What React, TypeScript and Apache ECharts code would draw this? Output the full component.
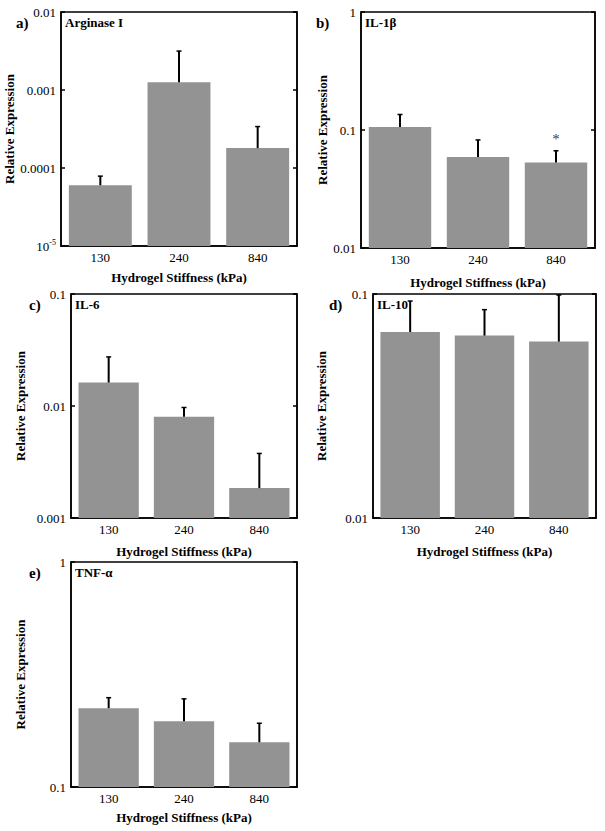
import React, { useEffect, useRef } from "react";
import * as echarts from "echarts";

const categories = ["130", "240", "840"];

const arginaseMean = [6.0e-5, 1.26e-3, 1.8e-4];
const arginaseErr = [8.1e-5, 3.25e-3, 3.5e-4];

const il1bMean = [0.106, 0.059, 0.053];
const il1bErr = [0.138, 0.084, 0.068];
const il1bSig = ["", "", "*"];

const il6Mean = [0.0162, 0.008, 0.00185];
const il6Err = [0.028, 0.0099, 0.00385];

const il10Mean = [0.0677, 0.0652, 0.0613];
const il10Err = [0.094, 0.086, 0.1];

const tnfMean = [0.224, 0.196, 0.158];
const tnfErr = [0.252, 0.249, 0.194];

const FONT = "'Liberation Serif', 'Times New Roman', serif";

type Panel = {
  letter: string;
  title: string;
  mean: number[];
  err: number[];
  sig: string[];
  min: number;
  max: number;
  grid: { left: number; top: number; width: number; height: number };
  yGap: number;
  xGap: number;
  letterX: number;
};

const panels: Panel[] = [
  { letter: "a)", title: "Arginase I", mean: arginaseMean, err: arginaseErr, sig: ["", "", ""], min: 1e-5, max: 1e-2,
    grid: { left: 61, top: 12, width: 236, height: 234 }, yGap: 44, xGap: 25, letterX: 17 },
  { letter: "b)", title: "IL-1β", mean: il1bMean, err: il1bErr, sig: il1bSig, min: 1e-2, max: 1,
    grid: { left: 361, top: 12, width: 234, height: 236 }, yGap: 32, xGap: 28, letterX: 317 },
  { letter: "c)", title: "IL-6", mean: il6Mean, err: il6Err, sig: ["", "", ""], min: 1e-3, max: 1e-1,
    grid: { left: 71, top: 294, width: 226, height: 224 }, yGap: 44, xGap: 27, letterX: 30 },
  { letter: "d)", title: "IL-10", mean: il10Mean, err: il10Err, sig: ["", "", ""], min: 1e-2, max: 1e-1,
    grid: { left: 373, top: 294, width: 223, height: 224 }, yGap: 45, xGap: 27, letterX: 330 },
  { letter: "e)", title: "TNF-α", mean: tnfMean, err: tnfErr, sig: ["", "", ""], min: 1e-1, max: 1,
    grid: { left: 71, top: 562, width: 226, height: 225 }, yGap: 44, xGap: 24, letterX: 30 },
];

function logLabel(v: number): string {
  const e = Math.round(Math.log10(v));
  if (e >= 0) return "1";
  if (e <= -5) return "{b|10}{s|" + e + "}";
  return "0." + "0".repeat(-e - 1) + "1";
}

export default function App() {
  const ref = useRef<HTMLDivElement>(null);
  useEffect(() => {
    if (!ref.current) return;
    const chart = echarts.init(ref.current, undefined, { renderer: "svg" });
    const grid: any[] = [];
    const xAxis: any[] = [];
    const yAxis: any[] = [];
    const series: any[] = [];
    const graphic: any[] = [];
    panels.forEach((p, i) => {
      grid.push({ ...p.grid, show: true, borderColor: "#000", borderWidth: 1.5, backgroundColor: "#fff" });
      xAxis.push({
        type: "category",
        gridIndex: i,
        data: categories,
        axisTick: { show: false },
        axisLine: { lineStyle: { color: "#000", width: 1.5 } },
        axisLabel: { color: "#000", fontFamily: FONT, fontSize: 13, margin: 5 },
        name: "Hydrogel Stiffness (kPa)",
        nameLocation: "middle",
        nameGap: p.xGap,
        nameTextStyle: { color: "#000", fontFamily: FONT, fontSize: 13, fontWeight: "bold", verticalAlign: "top" },
      });
      yAxis.push({
        type: "log",
        logBase: 10,
        gridIndex: i,
        min: p.min,
        max: p.max,
        startValue: p.min,
        splitLine: { show: false },
        minorTick: { show: false },
        axisLine: { show: true, lineStyle: { color: "#000", width: 1.5 } },
        axisTick: { show: true, inside: true, length: 4, lineStyle: { color: "#000", width: 1.5 } },
        axisLabel: {
          color: "#000",
          fontFamily: FONT,
          fontSize: 13,
          margin: 5,
          formatter: (v: number) => logLabel(v),
          rich: {
            b: { fontFamily: FONT, fontSize: 13, color: "#000" },
            s: { fontFamily: FONT, fontSize: 8, color: "#000", padding: [0, 0, 8, 0] },
          },
        },
        name: "Relative Expression",
        nameLocation: "middle",
        nameRotate: 90,
        nameGap: p.yGap,
        nameTextStyle: { color: "#000", fontFamily: FONT, fontSize: 13, fontWeight: "bold" },
      });
      yAxis.push({
        type: "log",
        logBase: 10,
        gridIndex: i,
        min: p.min,
        max: p.max,
        position: "right",
        splitLine: { show: false },
        minorTick: { show: false },
        axisLine: { show: true, lineStyle: { color: "#000", width: 1.5 } },
        axisTick: { show: true, inside: true, length: 4, lineStyle: { color: "#000", width: 1.5 } },
        axisLabel: { show: false },
      });
      series.push({
        type: "bar",
        xAxisIndex: i,
        yAxisIndex: i * 2,
        data: p.mean,
        barCategoryGap: "20%",
        itemStyle: { color: "#939393" },
        silent: true,
      });
      series.push({
        type: "custom",
        xAxisIndex: i,
        yAxisIndex: i * 2,
        data: p.mean.map((m, k) => [k, m, p.err[k]]),
        renderItem: (params: any, api: any) => {
          const k = api.value(0);
          const base = api.coord([k, api.value(1)]);
          const top = api.coord([k, api.value(2)]);
          return {
            type: "group",
            children: [
              { type: "line", shape: { x1: base[0], y1: base[1], x2: top[0], y2: top[1] + 1 },
                style: { stroke: "#000", lineWidth: 2 } },
              { type: "line", shape: { x1: top[0] - 2.5, y1: top[1] + 1, x2: top[0] + 2.5, y2: top[1] + 1 },
                style: { stroke: "#000", lineWidth: 1.5 } },
            ],
          };
        },
        silent: true,
        z: 5,
      });
      const sigData = p.sig
        .map((s, k) => (s ? { value: [k, p.err[k]], name: s } : null))
        .filter((d) => d !== null);
      if (sigData.length) {
        series.push({
          type: "scatter",
          xAxisIndex: i,
          yAxisIndex: i * 2,
          data: sigData,
          symbolSize: 1,
          itemStyle: { color: "rgba(0,0,0,0)" },
          label: {
            show: true,
            position: "top",
            distance: 3,
            formatter: (d: any) => d.name,
            color: "#000",
            fontFamily: FONT,
            fontSize: 15,
          },
          silent: true,
          z: 6,
        });
      }
      graphic.push({
        type: "text",
        left: p.letterX - 1,
        top: p.grid.top + 3,
        style: { text: p.letter, font: "bold 15px " + FONT, fill: "#000" },
      });
      graphic.push({
        type: "text",
        left: p.grid.left + 4,
        top: p.grid.top + 4,
        style: { text: p.title, font: "bold 13px " + FONT, fill: "#000" },
        z: 10,
      });
    });
    chart.setOption({
      animation: false,
      backgroundColor: "#fff",
      grid,
      xAxis,
      yAxis,
      series,
      graphic,
    });
    return () => chart.dispose();
  }, []);
  return (
    <div
      ref={ref}
      style={{ position: "absolute", left: 0, top: 0, width: 605, height: 831 }}
    />
  );
}
